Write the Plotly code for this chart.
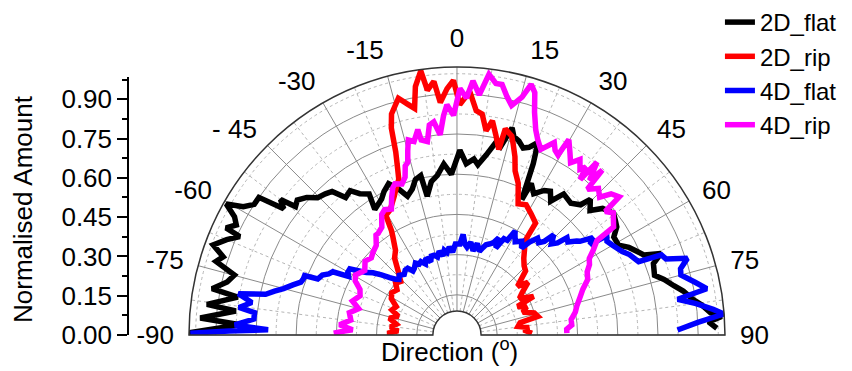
import plotly.graph_objects as go

# ---------------- data (direction in degrees, normalised amount) ----------------
theta_2d_flat = [-89.5, -87.3, -86.2, -83.8, -83.0, -80.2, -79.3, -77.0, -74.9, -73.0,
                 -71.5, -69.7, -67.5, -65.6, -65.1, -63.5, -62.0, -60.4, -59.0, -57.2,
                 -55.2, -53.9, -52.5, -51.5, -49.8, -47.5, -45.4, -43.0, -41.0, -39.0,
                 -36.5, -34.5, -31.9, -33.2, -29.0, -27.0, -24.3, -22.0, -19.6, -17.0,
                 -15.0, -12.8, -12.1, -9.5, -7.0, -4.4, -2.0, 0.9, 3.1, 5.5,
                 7.0, 9.2, 11.3, 13.0, 14.9, 16.0, 17.7, 19.5, 21.0, 22.8,
                 24.0, 25.6, 26.1, 28.5, 31.1, 33.0, 35.0, 37.1, 40.8, 43.5,
                 44.5, 46.9, 49.0, 52.1, 54.0, 55.9, 58.0, 60.9, 63.0, 65.0,
                 66.9, 68.2, 70.0, 73.2, 75.0, 77.2, 79.0, 81.4, 83.0, 85.0,
                 86.0, 87.0, 88.5]
r_2d_flat = [1.00, 0.81, 0.96, 0.83, 0.94, 0.83, 0.93, 0.88, 0.86, 0.94,
             0.92, 0.97, 0.93, 0.89, 0.95, 0.92, 0.94, 0.99, 0.93, 0.90,
             0.90, 0.80, 0.83, 0.77, 0.78, 0.76, 0.73, 0.72, 0.71, 0.66,
             0.67, 0.64, 0.62, 0.56, 0.58, 0.60, 0.62, 0.59, 0.55, 0.57,
             0.60, 0.61, 0.53, 0.58, 0.60, 0.64, 0.60, 0.69, 0.64, 0.66,
             0.64, 0.68, 0.73, 0.72, 0.80, 0.77, 0.76, 0.74, 0.75, 0.78,
             0.70, 0.56, 0.63, 0.60, 0.63, 0.64, 0.61, 0.66, 0.65, 0.67,
             0.71, 0.68, 0.72, 0.74, 0.73, 0.72, 0.69, 0.69, 0.72, 0.74,
             0.76, 0.82, 0.78, 0.77, 0.80, 0.83, 0.86, 0.89, 0.92, 0.95,
             0.99, 0.94, 0.97]

theta_2d_rip = [-89.6, -88.6, -86.0, -83.0, -80.0, -76.0, -72.3, -69.0, -65.0, -61.0,
                -57.0, -53.0, -49.7, -46.4, -43.0, -39.0, -36.0, -33.0, -32.1, -30.7,
                -28.0, -26.0, -24.2, -22.0, -20.5, -19.6, -18.5, -17.6, -16.5, -13.9,
                -12.0, -10.6, -9.5, -7.8, -6.9, -5.2, -4.1, -2.3, -0.8, 0.7,
                3.0, 4.9, 6.5, 8.1, 9.4, 11.0, 12.7, 13.2, 15.4, 16.5,
                18.0, 19.5, 22.0, 25.0, 28.0, 31.5, 35.1, 35.9, 38.0, 41.0,
                44.1, 47.0, 51.2, 53.4, 57.0, 59.7, 63.3, 64.7, 68.0, 71.0,
                74.0, 77.0, 79.0, 82.0, 84.0, 85.7, 88.7]
r_2d_rip = [0.23, 0.26, 0.22, 0.25, 0.23, 0.26, 0.23, 0.26, 0.25, 0.28,
            0.29, 0.28, 0.30, 0.29, 0.32, 0.37, 0.39, 0.44, 0.46, 0.52,
            0.53, 0.55, 0.57, 0.60, 0.62, 0.66, 0.72, 0.81, 0.86, 0.91,
            0.88, 0.86, 0.94, 0.995, 0.92, 0.95, 0.87, 0.92, 0.95, 0.86,
            0.91, 0.84, 0.83, 0.77, 0.81, 0.76, 0.71, 0.79, 0.77, 0.74,
            0.70, 0.65, 0.61, 0.54, 0.55, 0.53, 0.51, 0.43, 0.41, 0.38,
            0.36, 0.35, 0.29, 0.33, 0.29, 0.27, 0.32, 0.25, 0.28, 0.26,
            0.30, 0.31, 0.24, 0.23, 0.27, 0.25, 0.28]

theta_4d_flat = [-89.6, -89.0, -88.4, -87.4, -85.5, -83.7, -82.8, -81.0, -79.3, -78.0,
                 -76.5, -75.0, -73.0, -71.3, -69.8, -68.7, -68.1, -66.0, -64.5, -63.0,
                 -61.6, -60.0, -58.3, -57.0, -55.4, -53.5, -51.5, -49.5, -47.8, -46.2,
                 -44.0, -41.0, -38.5, -36.4, -34.5, -32.7, -30.0, -28.0, -26.2, -24.0,
                 -22.0, -19.7, -18.0, -16.0, -14.0, -12.0, -10.0, -8.5, -6.8, -5.0,
                 -3.0, -1.0, 1.9, 3.5, 5.0, 6.5, 8.5, 10.8, 12.5, 15.0,
                 16.5, 17.8, 19.5, 21.5, 23.3, 24.0, 26.0, 28.0, 29.2, 30.0,
                 32.0, 34.6, 36.6, 38.0, 39.8, 41.5, 43.0, 44.0, 46.0, 47.5,
                 48.5, 50.0, 51.9, 52.7, 54.4, 55.8, 56.5, 58.0, 60.0, 63.2,
                 65.0, 68.0, 68.6, 70.0, 71.6, 73.5, 75.0, 77.5, 79.5, 80.8,
                 82.5, 84.3, 85.5, 87.0, 88.7]
r_4d_flat = [0.995, 0.85, 0.705, 0.83, 0.76, 0.76, 0.82, 0.775, 0.83, 0.73,
             0.70, 0.67, 0.64, 0.615, 0.61, 0.61, 0.56, 0.55, 0.53, 0.52,
             0.46, 0.47, 0.47, 0.44, 0.41, 0.39, 0.36, 0.33, 0.31, 0.30,
             0.31, 0.30, 0.31, 0.31, 0.29, 0.295, 0.31, 0.30, 0.305, 0.29,
             0.31, 0.29, 0.31, 0.31, 0.30, 0.32, 0.30, 0.32, 0.31, 0.33,
             0.31, 0.34, 0.34, 0.376, 0.34, 0.33, 0.35, 0.32, 0.35, 0.323,
             0.34, 0.354, 0.36, 0.37, 0.395, 0.355, 0.40, 0.40, 0.445, 0.433,
             0.41, 0.425, 0.404, 0.44, 0.47, 0.46, 0.478, 0.52, 0.49, 0.509,
             0.548, 0.54, 0.568, 0.577, 0.624, 0.60, 0.67, 0.66, 0.67, 0.691,
             0.71, 0.731, 0.819, 0.83, 0.906, 0.87, 0.865, 0.91, 0.948, 0.834,
             0.90, 0.961, 0.999, 0.90, 0.823]

theta_4d_rip = [-89.2, -88.0, -87.2, -85.0, -82.0, -78.3, -75.0, -72.0, -68.0, -64.8,
                -62.0, -59.4, -55.0, -51.2, -48.0, -45.4, -42.0, -39.0, -37.8, -34.9,
                -32.0, -30.0, -27.5, -25.3, -23.5, -22.3, -20.0, -18.2, -17.0, -15.9,
                -15.0, -14.0, -12.5, -10.8, -10.4, -8.7, -7.5, -6.2, -4.8, -3.5,
                -2.5, -0.9, 0.7, 2.3, 3.6, 5.3, 7.0, 8.8, 10.2, 11.8,
                13.4, 15.3, 16.5, 17.8, 19.2, 21.0, 22.4, 24.3, 26.8, 28.0,
                29.3, 29.8, 31.8, 33.4, 35.0, 36.6, 37.5, 38.4, 39.0, 40.6,
                41.4, 41.8, 44.0, 46.0, 47.5, 49.6, 50.2, 52.0, 55.4, 56.0,
                58.0, 60.0, 62.0, 64.1, 67.0, 70.0, 73.0, 76.4, 79.0, 82.3,
                85.0, 87.0, 89.0]
r_4d_rip = [0.46, 0.42, 0.39, 0.44, 0.40, 0.41, 0.38, 0.41, 0.39, 0.40,
            0.43, 0.44, 0.42, 0.44, 0.43, 0.44, 0.45, 0.48, 0.48, 0.49,
            0.53, 0.54, 0.53, 0.57, 0.60, 0.61, 0.60, 0.62, 0.66, 0.67,
            0.71, 0.75, 0.74, 0.78, 0.74, 0.73, 0.79, 0.80, 0.75, 0.82,
            0.86, 0.82, 0.92, 0.885, 0.95, 0.90, 0.98, 0.95, 0.95, 0.91,
            0.88, 0.92, 0.975, 0.95, 0.88, 0.82, 0.79, 0.76, 0.805, 0.78,
            0.77, 0.84, 0.80, 0.77, 0.80, 0.77, 0.79, 0.74, 0.83, 0.76,
            0.82, 0.73, 0.76, 0.74, 0.78, 0.795, 0.72, 0.74, 0.71, 0.63,
            0.60, 0.57, 0.56, 0.54, 0.53, 0.50, 0.48, 0.46, 0.45, 0.43,
            0.43, 0.41, 0.41]

series_names = ["2D_flat", "2D_rip", "4D_flat", "4D_rip"]
series_theta = [theta_2d_flat, theta_2d_rip, theta_4d_flat, theta_4d_rip]
series_r = [r_2d_flat, r_2d_rip, r_4d_flat, r_4d_rip]
series_colors = ["#000000", "#ff0000", "#0000ff", "#ff00ff"]

direction_ticks = [-90, -75, -60, -45, -30, -15, 0, 15, 30, 45, 60, 75, 90]
direction_labels = ["-90", "-75", "-60", "- 45", "-30", "-15", "0", "15", "30", "45", "60", "75", "90"]
direction_minor = [-82.5, -67.5, -52.5, -37.5, -22.5, -7.5, 7.5, 22.5, 37.5, 52.5, 67.5, 82.5]
amount_ticks = [0.0, 0.15, 0.30, 0.45, 0.60, 0.75, 0.90]
amount_labels = ["0.00", "0.15", "0.30", "0.45", "0.60", "0.75", "0.90"]
amount_minor = [0.075, 0.225, 0.375, 0.525, 0.675, 0.825, 0.975]
ring_major = [0.15, 0.30, 0.45, 0.60, 0.75, 0.90]
ring_minor = [0.225, 0.375, 0.525, 0.675, 0.825, 0.975]

FONT = "Liberation Sans, Arial, sans-serif"

fig = go.Figure()
# layer for the dotted minor grid
fig.add_trace(go.Scatterpolar(r=[None], theta=[None], subplot="polar",
                              showlegend=False, hoverinfo="skip"))
for name, th, rr, col in zip(series_names, series_theta, series_r, series_colors):
    fig.add_trace(go.Scatterpolar(r=rr, theta=th, mode="lines", name=name,
                                  line=dict(color=col, width=5.5),
                                  subplot="polar2"))
fig.add_trace(go.Scatter(x=[None], y=[None], showlegend=False, hoverinfo="skip",
                         xaxis="x", yaxis="y"))

dom_x = [0.2200, 0.8527]
dom_y = [0.0970, 0.8194]

fig.update_layout(
    width=852, height=371,
    margin=dict(l=0, r=0, t=0, b=0, pad=0, autoexpand=False),
    paper_bgcolor="white",
    plot_bgcolor="rgba(0,0,0,0)",
    font=dict(family=FONT, color="black", size=24),
    polar=dict(
        domain=dict(x=dom_x, y=dom_y),
        sector=[0, 180], hole=0.09, bgcolor="white",
        radialaxis=dict(range=[0.09, 1.0], tickvals=ring_minor, showticklabels=False,
                        ticks="", showline=False, gridcolor="#b5b5b5",
                        griddash="dot", gridwidth=1),
        angularaxis=dict(direction="clockwise", rotation=90, tickvals=direction_minor,
                         showticklabels=False, ticks="", showline=False,
                         gridcolor="#b5b5b5", griddash="dot", gridwidth=1),
    ),
    polar2=dict(
        domain=dict(x=dom_x, y=dom_y),
        sector=[0, 180], hole=0.09, bgcolor="rgba(0,0,0,0)",
        radialaxis=dict(range=[0.09, 1.0], tickvals=ring_major, showticklabels=False,
                        ticks="", showline=False, gridcolor="#8a8a8a", gridwidth=1),
        angularaxis=dict(direction="clockwise", rotation=90, tickvals=direction_ticks,
                         ticktext=direction_labels, ticks="outside", ticklen=9,
                         tickcolor="rgba(0,0,0,0)", showline=True, linecolor="#333333",
                         linewidth=1.5, gridcolor="#8a8a8a", gridwidth=1,
                         tickfont=dict(size=26, family=FONT, color="black")),
    ),
    xaxis=dict(domain=[0, 0.1], range=[0, 1], visible=False, automargin=False),
    yaxis=dict(domain=[0.0970, 0.7925], range=[0, 0.985], anchor="free",
               position=128 / 852, side="left", showline=True, linecolor="black",
               linewidth=1.5, ticks="outside", ticklen=10, tickwidth=1.5,
               tickcolor="black", tickvals=amount_ticks, ticktext=amount_labels,
               tickfont=dict(size=26, family=FONT, color="black"), automargin=False,
               minor=dict(tickvals=amount_minor, ticks="outside", ticklen=5,
                          tickwidth=1.5, tickcolor="black", showgrid=False),
               showgrid=False, zeroline=False, fixedrange=True),
    legend=dict(x=0.845, y=1.0, xanchor="left", yanchor="top",
                bgcolor="rgba(0,0,0,0)", font=dict(size=24, family=FONT, color="black"),
                tracegroupgap=0),
    annotations=[
        dict(text="Normalised Amount", x=23 / 852, y=0.4367, xref="paper", yref="paper",
             textangle=-90, showarrow=False, font=dict(size=26, family=FONT, color="black"),
             xanchor="center", yanchor="middle"),
        dict(text="Direction (<sup>o</sup>)", x=449 / 852, y=2 / 371,
             xref="paper", yref="paper", showarrow=False,
             font=dict(size=26, family=FONT, color="black"),
             xanchor="center", yanchor="bottom"),
    ],
    showlegend=True,
)

fig.write_html("out.html")
